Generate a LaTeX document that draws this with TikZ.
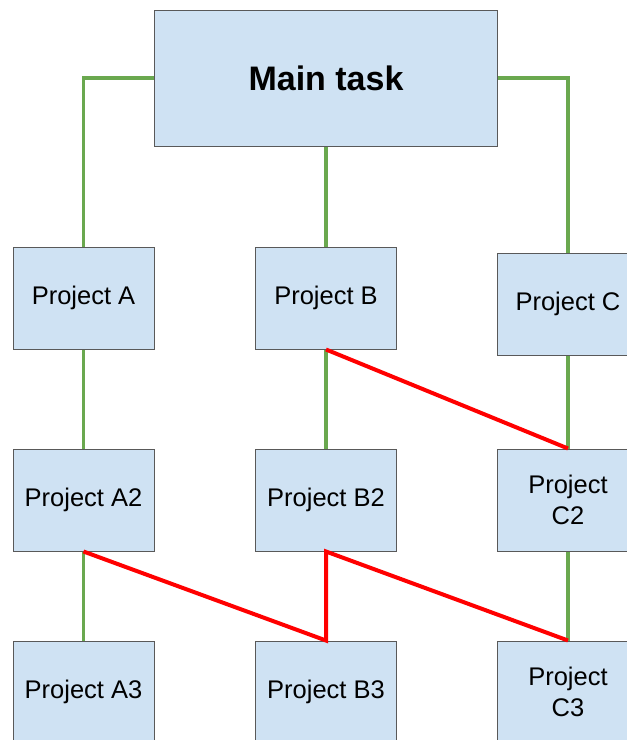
\documentclass[tikz,border=0pt]{standalone}
\usepackage{fontspec}
\setmainfont{Liberation Sans}
\definecolor{boxfill}{HTML}{CFE2F3}
\definecolor{boxline}{HTML}{595959}
\definecolor{linkgreen}{HTML}{6AA84F}
\definecolor{linkred}{HTML}{FF0000}
\tikzset{
  taskbox/.style={draw=boxline, line width=1pt, fill=boxfill, rectangle,
    inner sep=0pt, minimum width=141pt, minimum height=102pt,
    align=center, font=\fontsize{25.5}{31}\selectfont, text=black},
  mainbox/.style={taskbox, minimum width=343pt, minimum height=136pt,
    font=\fontsize{34}{40}\selectfont\bfseries},
  treelink/.style={draw=linkgreen, line width=3.5pt},
  crosslink/.style={draw=linkred, line width=4pt, line join=miter},
}
\begin{document}
\begin{tikzpicture}[x=1pt, y=-1pt]
  \useasboundingbox (0,0) rectangle (627,740);
  \clip (0,0) rectangle (627,740);
  \fill[white] (0,0) rectangle (627,740);

  % task boxes
  \node[mainbox] (main) at (326,78) {Main task};
  \node[taskbox] (a)  at (83.5,298) {Project A};
  \node[taskbox] (b)  at (326,298) {Project B};
  \node[taskbox] (c)  at (568,304) {Project C};
  \node[taskbox] (a2) at (83.5,500) {Project A2};
  \node[taskbox] (b2) at (326,500) {Project B2};
  \node[taskbox] (c2) at (568,500) {Project\\C2};
  \node[taskbox] (a3) at (83.5,692) {Project A3};
  \node[taskbox] (b3) at (326,692) {Project B3};
  \node[taskbox] (c3) at (568,692) {Project\\C3};

  % hierarchy links
  \draw[treelink] (main.west) -| (a.north);
  \draw[treelink] (main.east) -| (c.north);
  \draw[treelink] (main.south) -- (b.north);
  \draw[treelink] (a.south) -- (a2.north);
  \draw[treelink] (a2.south) -- (a3.north);
  \draw[treelink] (b.south) -- (b2.north);
  \draw[treelink] (c.south) -- (c2.north);
  \draw[treelink] (c2.south) -- (c3.north);

  % cross links
  \draw[crosslink] (b.south) -- (c2.north);
  \draw[crosslink] (a2.south) -- (b3.north) -- (b2.south) -- (c3.north);
\end{tikzpicture}
\end{document}
